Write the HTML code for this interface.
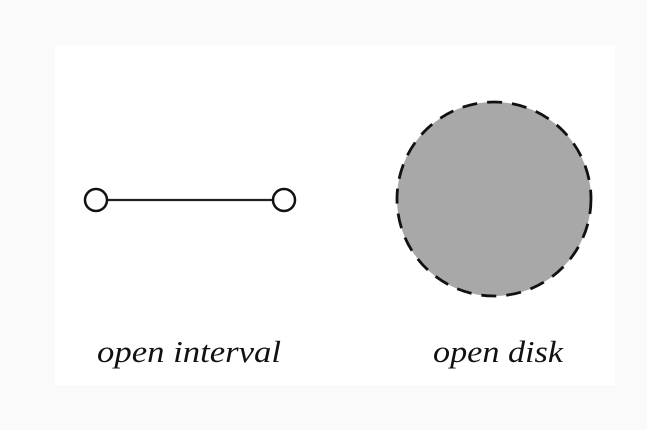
<!DOCTYPE html>
<html><head><style>
html,body{margin:0;padding:0;background:#fafafa;}
</style></head><body>
<svg width="647" height="425" xmlns="http://www.w3.org/2000/svg">
<rect x="0" y="0" width="647" height="425" fill="#fafafa"/>
<rect x="55" y="45" width="560" height="340" fill="#ffffff"/>
<line x1="107" y1="200" x2="273" y2="200" stroke="#222" stroke-width="2.2"/>
<circle cx="96" cy="200" r="11" fill="#fff" stroke="#111" stroke-width="2.5"/>
<circle cx="284" cy="200" r="11" fill="#fff" stroke="#111" stroke-width="2.5"/>
<circle cx="494" cy="199" r="97" fill="#a8a8a8" stroke="#111" stroke-width="2.8" stroke-dasharray="15 10"/>
<text x="97" y="362" font-family="Liberation Serif, serif" font-style="italic" font-size="31" textLength="184" lengthAdjust="spacingAndGlyphs" fill="#111">open interval</text>
<text x="433" y="362" font-family="Liberation Serif, serif" font-style="italic" font-size="31" textLength="130" lengthAdjust="spacingAndGlyphs" fill="#111">open disk</text>
</svg>
</body></html>
